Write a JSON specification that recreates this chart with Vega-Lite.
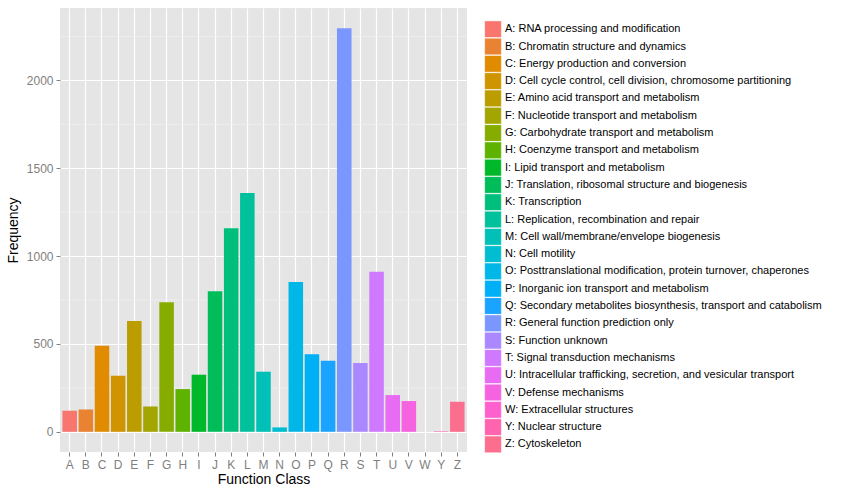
{
  "$schema": "https://vega.github.io/schema/vega-lite/v6.json",
  "width": 407,
  "height": 444,
  "padding": {"left": 6, "top": 8, "right": 5, "bottom": 5},
  "background": "white",
  "config": {
    "font": "Liberation Sans",
    "view": {"fill": "#E5E5E5", "stroke": null}
  },
  "datasets": {
    "cog": [
      {"cls": "A", "label": "A: RNA processing and modification", "freq": 120},
      {"cls": "B", "label": "B: Chromatin structure and dynamics", "freq": 127},
      {"cls": "C", "label": "C: Energy production and conversion", "freq": 490},
      {"cls": "D", "label": "D: Cell cycle control, cell division, chromosome partitioning", "freq": 319},
      {"cls": "E", "label": "E: Amino acid transport and metabolism", "freq": 631},
      {"cls": "F", "label": "F: Nucleotide transport and metabolism", "freq": 144},
      {"cls": "G", "label": "G: Carbohydrate transport and metabolism", "freq": 738},
      {"cls": "H", "label": "H: Coenzyme transport and metabolism", "freq": 243},
      {"cls": "I", "label": "I: Lipid transport and metabolism", "freq": 325},
      {"cls": "J", "label": "J: Translation, ribosomal structure and biogenesis", "freq": 800},
      {"cls": "K", "label": "K: Transcription", "freq": 1158},
      {"cls": "L", "label": "L: Replication, recombination and repair", "freq": 1359},
      {"cls": "M", "label": "M: Cell wall/membrane/envelope biogenesis", "freq": 342},
      {"cls": "N", "label": "N: Cell motility", "freq": 25},
      {"cls": "O", "label": "O: Posttranslational modification, protein turnover, chaperones", "freq": 852},
      {"cls": "P", "label": "P: Inorganic ion transport and metabolism", "freq": 441},
      {"cls": "Q", "label": "Q: Secondary metabolites biosynthesis, transport and catabolism", "freq": 405},
      {"cls": "R", "label": "R: General function prediction only", "freq": 2297},
      {"cls": "S", "label": "S: Function unknown", "freq": 392},
      {"cls": "T", "label": "T: Signal transduction mechanisms", "freq": 911},
      {"cls": "U", "label": "U: Intracellular trafficking, secretion, and vesicular transport", "freq": 209},
      {"cls": "V", "label": "V: Defense mechanisms", "freq": 175},
      {"cls": "W", "label": "W: Extracellular structures", "freq": 0},
      {"cls": "Y", "label": "Y: Nuclear structure", "freq": 3},
      {"cls": "Z", "label": "Z: Cytoskeleton", "freq": 171}
    ],
    "minor": [{"v": 250}, {"v": 750}, {"v": 1250}, {"v": 1750}, {"v": 2250}]
  },
  "layer": [
    {
      "data": {"name": "minor"},
      "mark": {"type": "rule", "color": "#F2F2F2", "strokeWidth": 0.7},
      "encoding": {
        "y": {"field": "v", "type": "quantitative", "title": "Frequency",
              "scale": {"domain": [-115, 2412], "nice": false, "zero": false}}
      }
    },
    {
      "data": {"name": "cog"},
      "mark": {"type": "bar"},
      "encoding": {
        "x": {
          "field": "cls", "type": "nominal",
          "scale": {"paddingInner": 0.1, "paddingOuter": 0.15},
          "axis": {
            "title": "Function Class", "titleFontSize": 14, "titleFontWeight": "normal",
            "titleColor": "black", "titlePadding": 2,
            "labelAngle": 0, "labelFontSize": 12, "labelColor": "#7F7F7F", "labelPadding": 3,
            "tickColor": "#7F7F7F", "tickSize": 4, "domain": false,
            "grid": true, "gridColor": "white", "gridWidth": 1.2, "gridOpacity": 1
          }
        },
        "y": {
          "field": "freq", "type": "quantitative", "title": "Frequency",
          "scale": {"domain": [-115, 2412], "nice": false, "zero": false},
          "axis": {
            "titleFontSize": 14, "titleFontWeight": "normal",
            "titleColor": "black", "titlePadding": 6, "format": "d",
            "values": [0, 500, 1000, 1500, 2000],
            "labelFontSize": 12, "labelColor": "#7F7F7F", "labelPadding": 3,
            "tickColor": "#7F7F7F", "tickSize": 4, "domain": false,
            "grid": true, "gridColor": "white", "gridWidth": 1.2, "gridOpacity": 1
          }
        },
        "color": {
          "field": "label", "type": "nominal",
          "scale": {
            "range": ["#F8766D", "#EA8331", "#E08B00", "#CF9400", "#BB9D00", "#A3A500", "#86AC00", "#5EB300", "#00B92A", "#00BD5A", "#00BF7D", "#00C19C", "#00C0B7", "#00BDD1", "#00B7E7", "#00B0F6", "#1AA3FF", "#7997FF", "#AA88FF", "#CE79FF", "#E76BF3", "#F663E1", "#FE61CE", "#FF64AE", "#FC6E8E"]
          },
          "legend": {
            "title": null, "orient": "none", "legendX": 424, "legendY": 12.7, "direction": "vertical",
            "symbolType": "square", "symbolSize": 280, "symbolStrokeWidth": 0.5,
            "symbolStrokeColor": "white", "symbolOpacity": 1, "clipHeight": 17,
            "labelFontSize": 11, "labelLimit": 400, "labelColor": "black",
            "rowPadding": 0.3, "labelOffset": 3, "padding": 0
          }
        }
      }
    }
  ]
}
